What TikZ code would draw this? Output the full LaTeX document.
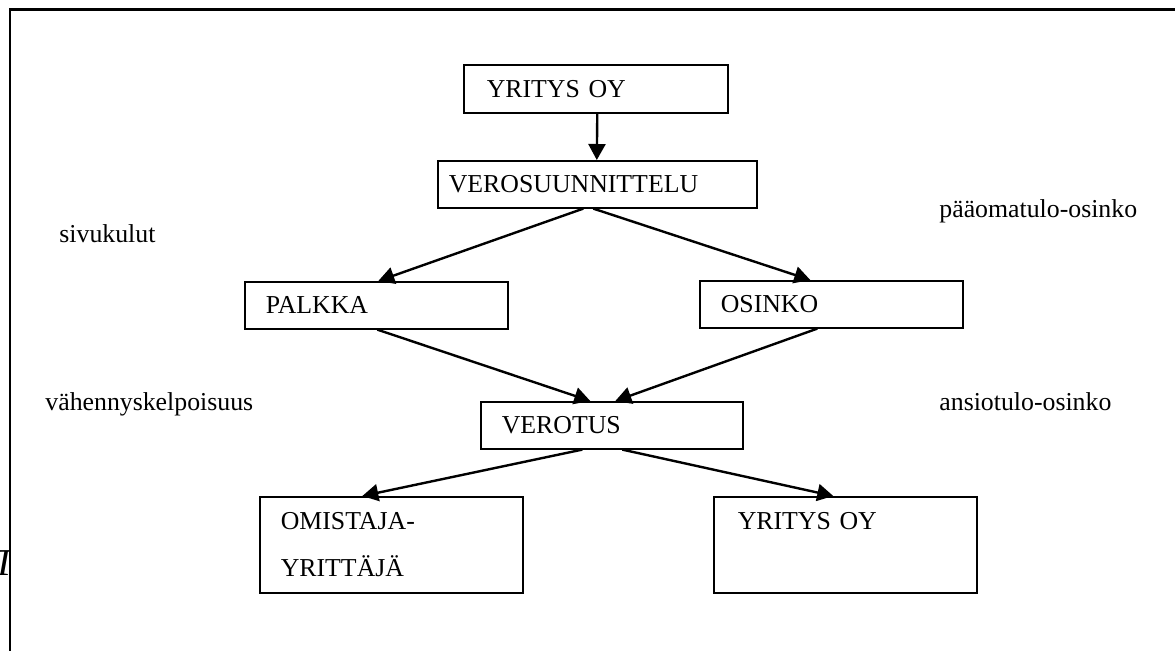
\documentclass[tikz,border=0pt]{standalone}
\usepackage{fontspec}
\setmainfont{Liberation Serif}
\usetikzlibrary{arrows.meta}
\begin{document}
\begin{tikzpicture}[x=0.5pt,y=-0.5pt,
  every node/.style={font=\fontsize{12.9}{23.5}\selectfont},
  box/.style={draw, line width=0.8pt, anchor=north west, align=left, inner ysep=0pt},
  lbl/.style={anchor=base west, inner sep=0pt},
  arr/.style={line width=1.2pt, -{Triangle[length=8pt,width=8.5pt]}}]
\useasboundingbox (0,0) rectangle (1175,650);
% frame
\draw[line width=1.3pt] (10,660) -- (10,9.5) -- (1185,9.5);
% clipped glyph at left edge
\begin{scope}
  \clip (-5,530) rectangle (9,600);
  \node[lbl, font=\fontsize{19}{19}\selectfont\itshape] (clipt) at (-7,575) {T};
\end{scope}
% boxes
\node[box, inner xsep=11.5pt, text width=109pt, minimum height=24pt] (yrit) at (463,64) {YRITYS OY};
\node[box, inner xsep=5.5pt, text width=148.5pt, minimum height=23.5pt] (vero) at (437,160) {VEROSUUNNITTELU};
\node[box, inner xsep=10.5pt, text width=110.5pt, minimum height=23.5pt] (palkka) at (244,281) {PALKKA};
\node[box, inner xsep=10.5pt, text width=110.5pt, minimum height=23.5pt] (osinko) at (699,280) {OSINKO};
\node[box, inner xsep=10.5pt, text width=110pt, minimum height=23.5pt] (verotus) at (480,401) {VEROTUS};
\node[box, inner xsep=10.5pt, text width=110.5pt, minimum height=48pt] (omist) at (259,496) {OMISTAJA-\\YRITTÄJÄ};
\node[box, inner xsep=12pt, text width=107.5pt, minimum height=48pt] (yrit2) at (713,496) {YRITYS OY\\\phantom{YRITTÄJÄ}};
% labels
\node[lbl] (sivu) at (59,242) {sivukulut};
\node[lbl] (vahe) at (45,410) {vähennyskelpoisuus};
\node[lbl] (paao) at (939,217) {pääomatulo-osinko};
\node[lbl] (ansi) at (939,410) {ansiotulo-osinko};
% connectors
\draw[arr] ([xshift=0.75pt]yrit.south) -- ([xshift=-0.25pt]vero.north);
\draw[arr] ([xshift=-7pt]vero.south) -- ([xshift=1pt]palkka.north);
\draw[arr] ([xshift=-2pt]vero.south) -- ([xshift=-10.5pt]osinko.north);
\draw[arr] ([xshift=0.5pt]palkka.south) -- ([xshift=-10.75pt]verotus.north);
\draw[arr] ([xshift=-7pt]osinko.south) -- ([xshift=1.75pt]verotus.north);
\draw[arr] ([xshift=-14.75pt]verotus.south) -- ([xshift=-14.5pt]omist.north);
\draw[arr] ([xshift=5.25pt]verotus.south) -- ([xshift=-6pt]yrit2.north);
\end{tikzpicture}
\end{document}
